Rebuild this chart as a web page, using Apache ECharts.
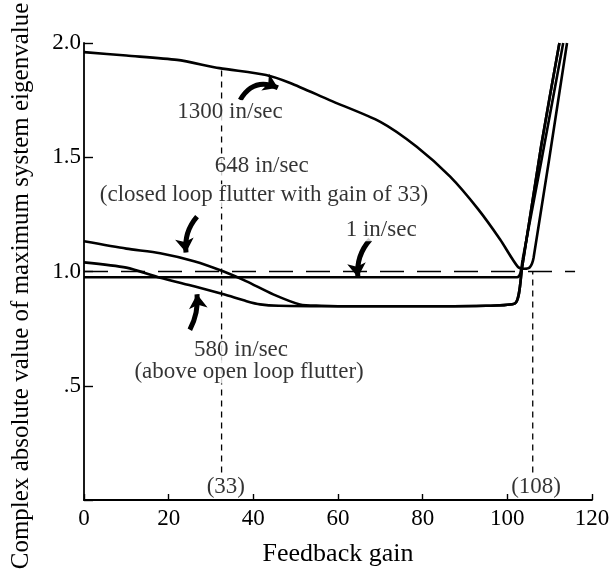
<!DOCTYPE html>
<html>
<head>
<meta charset="utf-8">
<script src="https://cdn.jsdelivr.net/npm/echarts@6/dist/echarts.min.js"></script>
<style>
html,body{margin:0;padding:0;background:#fff;}
#chart{width:616px;height:572px;}
</style>
</head>
<body>
<div id="chart"></div>
<script>
// ---- data ----
var xTickValues = [0, 20, 40, 60, 80, 100, 120];
var yTickValues = [0, 0.5, 1.0, 1.5, 2.0];
var yTickLabels = ['', '.5', '1.0', '1.5', '2.0'];

var curve1300 = [[0,1.96],[10,1.945],[22,1.926],[32,1.89],[43,1.86],[48.7,1.825],[58,1.75],[70,1.655],[78.6,1.546],[86.5,1.415],[93,1.275],[98.3,1.14],[102.5,1.02],[104,1.012],[105.3,1.018],[106.2,1.06],[114.1,2.0]];
var curve648  = [[0,1.132],[10,1.10],[18,1.08],[26,1.045],[33,1.0],[38.4,0.957],[44.7,0.9],[51,0.856],[56,0.85],[60,0.848],[80,0.848],[95,0.85],[101.8,0.86],[103.5,1.02],[108,1.55],[112.3,2.0]];
var curve580  = [[0,1.04],[10,1.017],[18,0.973],[26,0.935],[33,0.9],[38.4,0.87],[41.6,0.856],[46,0.85],[60,0.848],[80,0.848],[95,0.85],[101.8,0.86],[103.5,1.02],[108,1.55],[112.3,2.0]];
var curve1    = [[0,0.975],[50,0.975],[102.3,0.975],[103.6,1.05],[113.2,2.0]];

var unitLine   = [[0,1.0],[116,1.0]];
var gain33Line = [[32.5,0.12],[32.5,1.89]];
var gain108Line= [[106,0.12],[106,1.0]];

var annotationTexts = [
  {name:'1300 in/sec', value:[34.5,1.70]},
  {name:'648 in/sec', value:[42.0,1.46]},
  {name:'(closed loop flutter with gain of 33)', value:[42.5,1.333]},
  {name:'1 in/sec', value:[70.2,1.183]},
  {name:'580 in/sec', value:[37.1,0.655]},
  {name:'(above open loop flutter)', value:[39.0,0.56]},
  {name:'(33)', value:[33.5,0.057]},
  {name:'(108)', value:[106.8,0.057]}
];
// arrows: [tail, head, curveness]
var arrows = [
  {coords:[[36.9,1.751],[45.8,1.804]], c:0.45},
  {coords:[[26.7,1.24],[24.1,1.083]], c:-0.22},
  {coords:[[67.6,1.14],[64.7,0.975]], c:-0.22},
  {coords:[[25.0,0.745],[26.7,0.9]], c:-0.15}
];

var FONT = 'Liberation Serif';
var chart = echarts.init(document.getElementById('chart'));

function curveSeries(name, data){
  return {name:name, type:'line', data:data, symbol:'none', smooth:0.25, silent:true,
    lineStyle:{color:'#000', width:2.6}, z:3};
}
function dashSeries(data, dash, w){
  return {type:'line', data:data, symbol:'none', silent:true,
    lineStyle:{color:'#000', width:w, type:dash}, z:2};
}

var option = {
  animation:false,
  backgroundColor:'#fff',
  grid:{left:84, right:24, top:43, bottom:71, containLabel:false},
  xAxis:{
    type:'value', min:0, max:120, interval:20,
    axisLine:{show:true, onZero:false, lineStyle:{color:'#000', width:1.8}},
    axisTick:{show:true, inside:true, length:6, lineStyle:{color:'#000', width:1.4}},
    axisLabel:{color:'#000', fontFamily:FONT, fontSize:23, margin:7,
      formatter:function(v){ return xTickValues.indexOf(v) >= 0 ? String(v) : ''; }},
    splitLine:{show:false},
    name:'Feedback gain', nameLocation:'middle', nameGap:41,
    nameTextStyle:{color:'#000', fontFamily:FONT, fontSize:26}
  },
  yAxis:{
    type:'value', min:0, max:2, interval:0.5,
    axisLine:{show:true, onZero:false, lineStyle:{color:'#000', width:1.8}},
    axisTick:{show:true, inside:true, length:9, lineStyle:{color:'#000', width:1.4}},
    axisLabel:{color:'#000', fontFamily:FONT, fontSize:23, margin:3,
      formatter:function(v){ var i = yTickValues.indexOf(v); return i >= 0 ? yTickLabels[i] : ''; }},
    splitLine:{show:false}
  },
  graphic:[{
    type:'text', x:21, y:286, rotation:Math.PI/2,
    style:{text:'Complex absolute value of maximum system eigenvalue', fill:'#000',
      font:'25px "Liberation Serif"', align:'center', verticalAlign:'middle',
      textAlign:'center', textVerticalAlign:'middle'}
  }],
  series:[
    dashSeries(unitLine, [24,13], 1.5),
    dashSeries(gain33Line, [6,5], 1.3),
    dashSeries(gain108Line, [6,5], 1.3),
    curveSeries('1300 in/sec', curve1300),
    curveSeries('648 in/sec', curve648),
    curveSeries('580 in/sec', curve580),
    curveSeries('1 in/sec', curve1),
    {
      type:'lines', coordinateSystem:'cartesian2d', silent:true, z:4,
      symbol:['none','arrow'], symbolSize:[0,14],
      data: arrows.map(function(a){ return {coords:a.coords, lineStyle:{curveness:a.c}}; }),
      lineStyle:{color:'#000', width:5, opacity:1}
    },
    {
      type:'scatter', data:annotationTexts, symbolSize:1, silent:true, z:5,
      itemStyle:{color:'rgba(0,0,0,0)'},
      label:{show:true, position:'inside', formatter:'{b}', color:'#000',
        fontFamily:FONT, fontSize:23, backgroundColor:'#fff', padding:[0,1]}
    }
  ]
};
chart.setOption(option);
</script>
</body>
</html>
